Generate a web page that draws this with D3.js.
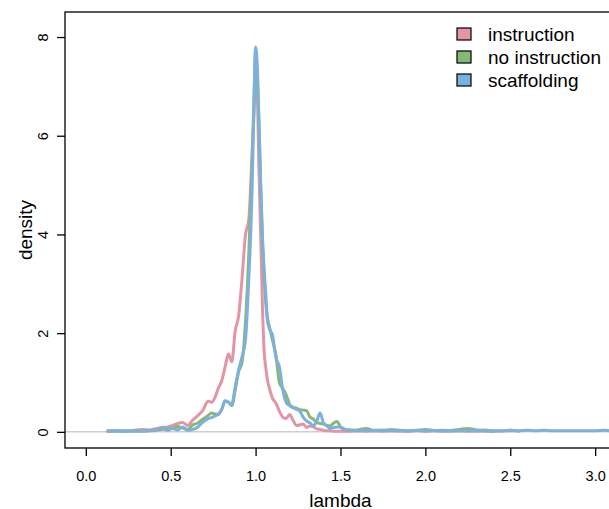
<!DOCTYPE html>
<html>
<head>
<meta charset="utf-8">
<script src="https://cdn.jsdelivr.net/npm/d3@7"></script>
<style>
  body { margin: 0; background: #fff; }
  svg { display: block; font-family: "Liberation Sans", Arial, Helvetica, sans-serif; }
</style>
</head>
<body>
<script>
// lambda grid shared by the three density estimates
var lambdaGrid = [0.13, 0.18, 0.23, 0.28, 0.33, 0.38, 0.42, 0.45, 0.48, 0.51,
  0.54, 0.57, 0.60, 0.63, 0.66, 0.69, 0.72, 0.74, 0.76, 0.78,
  0.80, 0.82, 0.84, 0.86, 0.88, 0.90, 0.92, 0.94, 0.96, 0.98,
  0.99, 1.00, 1.01, 1.02, 1.03, 1.04, 1.05, 1.06, 1.07, 1.08,
  1.10, 1.12, 1.14, 1.16, 1.18, 1.20, 1.22, 1.24, 1.26, 1.28,
  1.30, 1.32, 1.34, 1.36, 1.38, 1.40, 1.42, 1.44, 1.46, 1.48,
  1.50, 1.53, 1.56, 1.60, 1.65, 1.70, 1.75, 1.80, 1.85, 1.90,
  1.95, 2.00, 2.05, 2.10, 2.15, 2.20, 2.25, 2.30, 2.35, 2.40,
  2.45, 2.50, 2.55, 2.60, 2.65, 2.70, 2.75, 2.80, 2.85, 2.90,
  2.95, 3.00, 3.05, 3.10, 3.15];

var instruction = [0.01, 0.02, 0.01, 0.03, 0.05, 0.04, 0.07, 0.09, 0.10, 0.13,
  0.17, 0.19, 0.13, 0.24, 0.33, 0.44, 0.62, 0.60, 0.69, 0.88,
  1.03, 1.31, 1.58, 1.42, 2.05, 2.35, 3.10, 3.98, 4.30, 5.70,
  6.40, 7.10, 6.80, 5.30, 4.00, 2.60, 1.65, 1.30, 1.05, 0.90,
  0.68, 0.58, 0.42, 0.30, 0.27, 0.35, 0.24, 0.13, 0.14, 0.16,
  0.09, 0.12, 0.10, 0.06, 0.05, 0.03, 0.02, 0.02, 0.01, 0.01,
  0.01, 0.01, 0.01, 0.02, 0.01, 0.02, 0.01, 0.02, 0.01, 0.01,
  0.02, 0.01, 0.02, 0.01, 0.01, 0.02, 0.01, 0.01, 0.01, 0.01,
  0.01, 0.04, 0.01];

var noInstruction = [0.01, 0.02, 0.01, 0.02, 0.01, 0.02, 0.03, 0.05, 0.06, 0.07,
  0.11, 0.08, 0.05, 0.14, 0.18, 0.26, 0.33, 0.38, 0.36, 0.35,
  0.45, 0.62, 0.60, 0.53, 0.85, 1.22, 1.40, 2.20, 3.60, 5.50,
  6.70, 7.70, 7.20, 6.20, 5.00, 3.90, 3.20, 2.60, 2.30, 2.15,
  1.85, 1.55, 1.00, 0.88, 0.75, 0.56, 0.50, 0.48, 0.45, 0.44,
  0.43, 0.30, 0.26, 0.19, 0.17, 0.16, 0.13, 0.12, 0.18, 0.21,
  0.10, 0.04, 0.03, 0.04, 0.07, 0.03, 0.03, 0.05, 0.03, 0.02,
  0.03, 0.05, 0.03, 0.02, 0.03, 0.05, 0.07, 0.04, 0.02, 0.01];

var scaffolding = [0.02, 0.01, 0.02, 0.01, 0.02, 0.03, 0.05, 0.09, 0.03, 0.07,
  0.04, 0.10, 0.03, 0.05, 0.10, 0.20, 0.27, 0.29, 0.32, 0.36,
  0.45, 0.63, 0.60, 0.56, 0.92, 1.25, 1.52, 1.85, 3.10, 5.00,
  6.60, 7.80, 7.40, 6.30, 5.00, 4.00, 3.30, 2.80, 2.25, 2.10,
  1.95, 1.50, 1.32, 0.85, 0.60, 0.53, 0.49, 0.46, 0.42, 0.30,
  0.22, 0.18, 0.12, 0.22, 0.38, 0.18, 0.12, 0.07, 0.09, 0.10,
  0.10, 0.05, 0.04, 0.02, 0.03, 0.02, 0.03, 0.02, 0.03, 0.02,
  0.03, 0.02, 0.02, 0.03, 0.02, 0.02, 0.02, 0.03, 0.04, 0.02,
  0.02, 0.02, 0.02, 0.03, 0.02, 0.03, 0.02, 0.02, 0.02, 0.02,
  0.02, 0.02, 0.03, 0.02, 0.02];

var groupNames = ['instruction', 'no instruction', 'scaffolding'];
var groupColors = ['#E495A5', '#86B875', '#7DB0DD'];
var xTicks = [0, 0.5, 1, 1.5, 2, 2.5, 3];
var yTicks = [0, 2, 4, 6, 8];

var width = 609, height = 509;
var plot = { left: 65, top: 12, right: 627, bottom: 448 };

var svg = d3.select('body').append('svg').attr('width', width).attr('height', height);

// R style limits: data range padded by 4%
var xlim = [0, 3.065], ylim = [0, 8.18];
var xpad = (xlim[1] - xlim[0]) * 0.04, ypad = (ylim[1] - ylim[0]) * 0.04;
var x = d3.scaleLinear().domain([xlim[0] - xpad, xlim[1] + xpad]).range([plot.left, plot.right]);
var y = d3.scaleLinear().domain([ylim[0] - ypad, ylim[1] + ypad]).range([plot.bottom, plot.top]);

svg.append('clipPath').attr('id', 'clip').append('rect')
    .attr('x', plot.left).attr('y', plot.top)
    .attr('width', plot.right - plot.left).attr('height', plot.bottom - plot.top);

// zero reference line
svg.append('line')
    .attr('x1', plot.left).attr('x2', plot.right)
    .attr('y1', y(0)).attr('y2', y(0))
    .attr('stroke', '#cfcfcf').attr('stroke-width', 1.5);

var line = d3.line()
    .x(function (d) { return x(d[0]); })
    .y(function (d) { return y(d[1]); })
    .curve(d3.curveMonotoneX);

var series = [instruction, noInstruction, scaffolding];
var curves = svg.append('g').attr('clip-path', 'url(#clip)');
series.forEach(function (vals, i) {
    var pts = vals.map(function (v, j) { return [lambdaGrid[j], v]; });
    curves.append('path')
        .attr('d', line(pts))
        .attr('fill', 'none')
        .attr('stroke', groupColors[i])
        .attr('stroke-width', 3)
        .attr('stroke-linejoin', 'round')
        .attr('stroke-linecap', 'round');
});

// box
svg.append('rect')
    .attr('x', plot.left).attr('y', plot.top)
    .attr('width', plot.right - plot.left).attr('height', plot.bottom - plot.top)
    .attr('fill', 'none').attr('stroke', '#000').attr('stroke-width', 1.3);

// x axis
var xAxis = svg.append('g').attr('transform', 'translate(0,' + plot.bottom + ')')
    .call(d3.axisBottom(x).tickValues(xTicks).tickSize(8).tickPadding(15)
        .tickFormat(d3.format('.1f')));
xAxis.select('.domain').remove();
xAxis.selectAll('line').attr('stroke', '#000').attr('stroke-width', 1.3);
xAxis.selectAll('text').attr('font-size', 14.5).attr('fill', '#000')
    .attr('font-family', '"Liberation Sans", Arial, sans-serif');

// y axis
var yAxis = svg.append('g').attr('transform', 'translate(' + plot.left + ',0)')
    .call(d3.axisLeft(y).tickValues(yTicks).tickSize(8).tickFormat(d3.format('d')));
yAxis.select('.domain').remove();
yAxis.selectAll('line').attr('stroke', '#000').attr('stroke-width', 1.3);
yAxis.selectAll('text').remove();
yAxis.selectAll('.tick').append('text')
    .attr('transform', 'translate(-22,0) rotate(-90)')
    .attr('text-anchor', 'middle')
    .attr('dominant-baseline', 'central')
    .attr('font-size', 14.5)
    .attr('fill', '#000')
    .attr('font-family', '"Liberation Sans", Arial, sans-serif')
    .text(function (d) { return d; });

// axis titles
svg.append('text')
    .attr('x', x(1.5)).attr('y', 500)
    .attr('text-anchor', 'middle').attr('dominant-baseline', 'central')
    .attr('font-size', 19).text('lambda');

svg.append('text')
    .attr('transform', 'translate(25,' + ((plot.top + plot.bottom) / 2) + ') rotate(-90)')
    .attr('text-anchor', 'middle').attr('dominant-baseline', 'central')
    .attr('font-size', 19).text('density');

// legend
var legend = svg.append('g').attr('transform', 'translate(457,34)');
groupNames.forEach(function (name, i) {
    var row = legend.append('g').attr('transform', 'translate(0,' + (i * 23) + ')');
    row.append('rect')
        .attr('x', 0).attr('y', -6).attr('width', 14).attr('height', 12)
        .attr('fill', groupColors[i]).attr('stroke', '#000').attr('stroke-width', 1.2);
    row.append('text')
        .attr('x', 31).attr('y', 0)
        .attr('dominant-baseline', 'central')
        .attr('font-size', 19).text(name);
});
</script>
</body>
</html>
